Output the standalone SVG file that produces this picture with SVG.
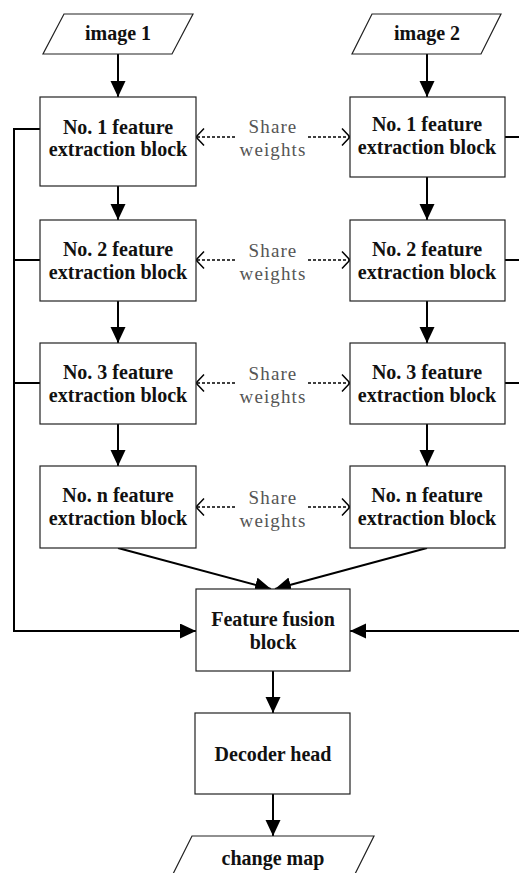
<svg xmlns="http://www.w3.org/2000/svg" width="519" height="873" viewBox="0 0 519 873">
<style>
.box{fill:#fff;stroke:#222;stroke-width:1.2}
.lbl{font-family:"Liberation Serif","Times New Roman",serif;font-weight:bold;font-size:20px;fill:#111;text-anchor:middle}
.sw{font-family:"Liberation Serif","Times New Roman",serif;font-size:19px;letter-spacing:1.1px;fill:#555;text-anchor:middle}
.ln{fill:none;stroke:#000;stroke-width:2}
.dl{fill:none;stroke:#000;stroke-width:1.5;stroke-dasharray:3 2}
</style>
<defs>
<marker id="ah" markerUnits="userSpaceOnUse" markerWidth="17" markerHeight="16" refX="16" refY="7.5" orient="auto" viewBox="0 0 17 16">
<path d="M0,0 L16,7.5 L0,15 z" fill="#000"/>
</marker>
<marker id="oh" markerUnits="userSpaceOnUse" markerWidth="11" markerHeight="20" refX="9" refY="9.5" orient="auto" viewBox="0 0 11 20">
<path d="M1,1 L9,9.5 L1,18" fill="none" stroke="#000" stroke-width="1.5" stroke-dasharray="none"/>
</marker>
</defs>
<g id="connectors">
<path class="ln" d="M118,54 V97" marker-end="url(#ah)"/>
<path class="ln" d="M427,54 V97" marker-end="url(#ah)"/>
<path class="ln" d="M118,186 V220" marker-end="url(#ah)"/>
<path class="ln" d="M427,177 V220" marker-end="url(#ah)"/>
<path class="ln" d="M118,301 V343" marker-end="url(#ah)"/>
<path class="ln" d="M427,301 V343" marker-end="url(#ah)"/>
<path class="ln" d="M118,424 V466" marker-end="url(#ah)"/>
<path class="ln" d="M427,424 V466" marker-end="url(#ah)"/>
<path class="ln" d="M118,548 L271,589" marker-end="url(#ah)"/>
<path class="ln" d="M427,548 L275,589" marker-end="url(#ah)"/>
<path class="ln" d="M273,671 V713" marker-end="url(#ah)"/>
<path class="ln" d="M273,794 V836" marker-end="url(#ah)"/>
<path class="ln" d="M40,129 H14 V631 H196" marker-end="url(#ah)"/>
<path class="ln" d="M40,260 H14 M40,383 H14"/>
<path class="ln" d="M505,137 H522 V631 H350" marker-end="url(#ah)"/>
<path class="ln" d="M505,260 H522 M505,383 H522"/>
<path class="dl" d="M235,137 H196" marker-end="url(#oh)"/>
<path class="dl" d="M308,137 H350" marker-end="url(#oh)"/>
<path class="dl" d="M235,260 H196" marker-end="url(#oh)"/>
<path class="dl" d="M308,260 H350" marker-end="url(#oh)"/>
<path class="dl" d="M235,383 H196" marker-end="url(#oh)"/>
<path class="dl" d="M308,383 H350" marker-end="url(#oh)"/>
<path class="dl" d="M235,507 H196" marker-end="url(#oh)"/>
<path class="dl" d="M308,507 H350" marker-end="url(#oh)"/>
<text class="sw" x="273" y="133">Share</text><text class="sw" x="273" y="156">weights</text>
<text class="sw" x="273" y="257">Share</text><text class="sw" x="273" y="280">weights</text>
<text class="sw" x="273" y="380">Share</text><text class="sw" x="273" y="403">weights</text>
<text class="sw" x="273" y="504">Share</text><text class="sw" x="273" y="527">weights</text>
</g>
<g id="image1"><polygon class="box" points="64,14 193,14 172,54 43,54"/><text class="lbl" x="118" y="40">image 1</text></g>
<g id="image2"><polygon class="box" points="372,14 501,14 481,54 352,54"/><text class="lbl" x="427" y="40">image 2</text></g>
<g id="L1"><rect class="box" x="40" y="97" width="156" height="89"/><text class="lbl" x="118" y="134">No. 1 feature</text><text class="lbl" x="118" y="156">extraction block</text></g>
<g id="R1"><rect class="box" x="350" y="97" width="155" height="80"/><text class="lbl" x="427" y="131">No. 1 feature</text><text class="lbl" x="427" y="154">extraction block</text></g>
<g id="L2"><rect class="box" x="40" y="220" width="156" height="81"/><text class="lbl" x="118" y="256">No. 2 feature</text><text class="lbl" x="118" y="279">extraction block</text></g>
<g id="R2"><rect class="box" x="350" y="220" width="155" height="81"/><text class="lbl" x="427" y="256">No. 2 feature</text><text class="lbl" x="427" y="279">extraction block</text></g>
<g id="L3"><rect class="box" x="40" y="343" width="156" height="81"/><text class="lbl" x="118" y="379">No. 3 feature</text><text class="lbl" x="118" y="402">extraction block</text></g>
<g id="R3"><rect class="box" x="350" y="343" width="155" height="81"/><text class="lbl" x="427" y="379">No. 3 feature</text><text class="lbl" x="427" y="402">extraction block</text></g>
<g id="Ln"><rect class="box" x="40" y="466" width="156" height="82"/><text class="lbl" x="118" y="502">No. n feature</text><text class="lbl" x="118" y="525">extraction block</text></g>
<g id="Rn"><rect class="box" x="350" y="466" width="155" height="82"/><text class="lbl" x="427" y="502">No. n feature</text><text class="lbl" x="427" y="525">extraction block</text></g>
<g id="fusion"><rect class="box" x="196" y="589" width="154" height="82"/><text class="lbl" x="273" y="626">Feature fusion</text><text class="lbl" x="273" y="649">block</text></g>
<g id="decoder"><rect class="box" x="195" y="713" width="155" height="81"/><text class="lbl" x="273" y="761">Decoder head</text></g>
<g id="changemap"><polygon class="box" points="192,836 374,836 354,876 172,876"/><text class="lbl" x="273" y="865">change map</text></g>
</svg>
